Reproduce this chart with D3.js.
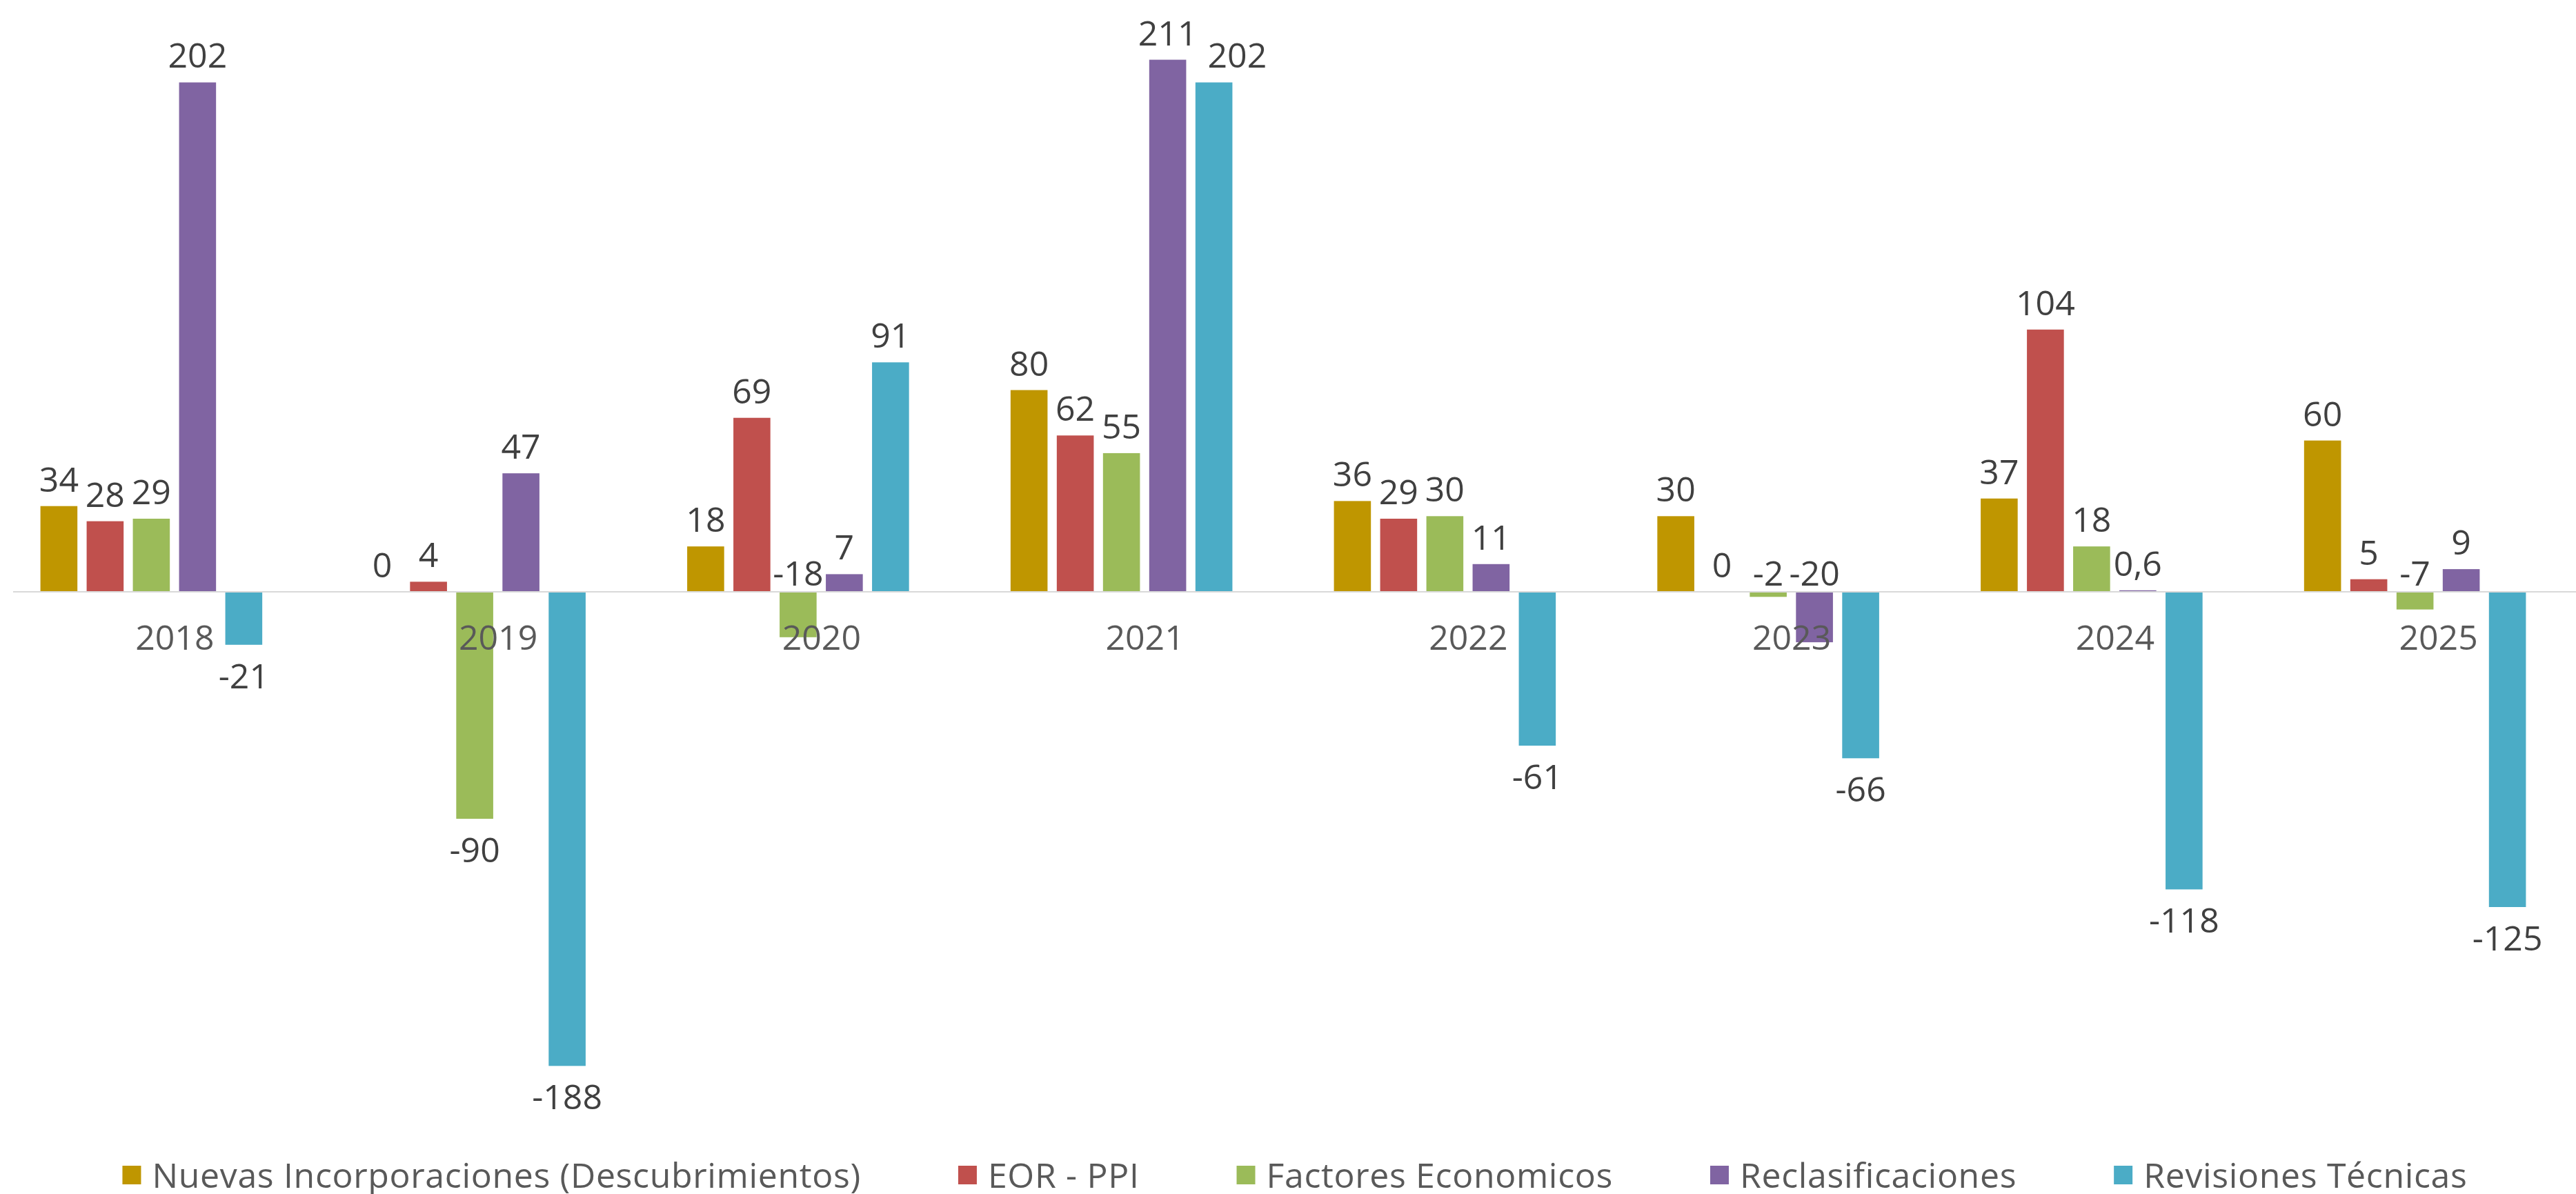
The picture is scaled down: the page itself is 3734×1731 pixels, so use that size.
<!DOCTYPE html>
<html>
<head>
<meta charset="utf-8">
<script src="https://cdn.jsdelivr.net/npm/d3@7"></script>
<style>
  html, body { margin: 0; padding: 0; background: #ffffff; }
  svg { display: block; font-family: "Open Sans", "Noto Sans", sans-serif; }
</style>
</head>
<body>
<svg id="chart" width="3734" height="1731"></svg>
<script>
const years = ["2018", "2019", "2020", "2021", "2022", "2023", "2024", "2025"];
const seriesNames = [
  "Nuevas Incorporaciones (Descubrimientos)",
  "EOR - PPI",
  "Factores Economicos",
  "Reclasificaciones",
  "Revisiones Técnicas"
];
const seriesColors = ["#BF9600", "#C0504D", "#9BBB59", "#8064A2", "#4BACC6"];
const nuevas        = [34, 0, 18, 80, 36, 30, 37, 60];
const eorPpi        = [28, 4, 69, 62, 29, 0, 104, 5];
const factores      = [29, -90, -18, 55, 30, -2, 18, -7];
const reclasif      = [202, 47, 7, 211, 11, -20, 0.6, 9];
const revisiones    = [-21, -188, 91, 202, -61, -66, -118, -125];
const seriesValues = [nuevas, eorPpi, factores, reclasif, revisiones];

const W = 3734, H = 1731;
const svg = d3.select("#chart");

const x0 = d3.scaleBand().domain(years).range([-15, 3735]).paddingInner(0.314).paddingOuter(0.157);
const x1 = d3.scaleBand().domain(d3.range(seriesNames.length)).range([0, x0.bandwidth()]).paddingInner(0.2).paddingOuter(0);
const y = d3.scaleLinear().domain([-188, 211]).range([858 + 188 * 3.656, 858 - 211 * 3.656]);

const fmt = v => String(v).replace(".", ",");

const data = [];
years.forEach((yr, i) => {
  seriesValues.forEach((arr, s) => data.push({ yr, s, v: arr[i] }));
});

// bars
svg.append("g").selectAll("rect").data(data).join("rect")
  .attr("x", d => x0(d.yr) + x1(d.s))
  .attr("width", x1.bandwidth())
  .attr("y", d => y(Math.max(0, d.v)))
  .attr("height", d => Math.abs(y(d.v) - y(0)))
  .attr("fill", d => seriesColors[d.s]);

// axis line
svg.append("line")
  .attr("x1", 19).attr("x2", W)
  .attr("y1", y(0)).attr("y2", y(0))
  .attr("stroke", "#D9D9D9").attr("stroke-width", 2);

// category labels
svg.append("g").selectAll("text").data(years).join("text")
  .attr("x", d => x0(d) + x0.bandwidth() / 2 + 34)
  .attr("y", y(0) + 84)
  .attr("text-anchor", "middle")
  .attr("font-size", 50)
  .attr("fill", "#595959")
  .text(d => d);

// data labels
const labels = svg.append("g").selectAll("text").data(data).join("text")
  .attr("x", d => x0(d.yr) + x1(d.s) + x1.bandwidth() / 2)
  .attr("y", d => {
    if (d.v >= 0) return y(d.v) - 21;
    if (d.v > -21) return y(0) - 9;
    return y(d.v) + 63;
  })
  .attr("text-anchor", "middle")
  .attr("font-size", 50)
  .attr("fill", "#404040")
  .text(d => fmt(d.v));

// nudge overlapping neighbouring labels within a group to the right
const nodes = labels.nodes();
for (let i = 1; i < nodes.length; i++) {
  const a = nodes[i - 1], b = nodes[i];
  if (a.__data__.yr !== b.__data__.yr) continue;
  const ba = a.getBBox(), bb = b.getBBox();
  const vOverlap = ba.y < bb.y + bb.height * 0.8 && bb.y < ba.y + ba.height * 0.8;
  const gap = bb.x - (ba.x + ba.width);
  if (vOverlap && gap < 0) {
    b.setAttribute("x", +b.getAttribute("x") + (15 - gap));
  }
}

// legend
const legend = svg.append("g");
const items = legend.selectAll("g").data(seriesNames).join("g");
items.append("rect").attr("width", 27).attr("height", 27).attr("y", 1690)
  .attr("fill", (d, i) => seriesColors[i]);
items.append("text").attr("y", 1722).attr("font-size", 50)
  .attr("letter-spacing", 0.65).attr("fill", "#595959").text(d => d);
const widths = [];
items.select("text").each(function () { widths.push(this.getComputedTextLength()); });
const gapAfter = 141, sqToText = 43;
let total = 0;
widths.forEach((w, i) => { total += sqToText + w + (i < widths.length - 1 ? gapAfter : 0); });
let cx = 1877 - total / 2;
items.each(function (d, i) {
  const g = d3.select(this);
  g.select("rect").attr("x", cx);
  g.select("text").attr("x", cx + sqToText);
  cx += sqToText + widths[i] + gapAfter;
});
</script>
</body>
</html>
